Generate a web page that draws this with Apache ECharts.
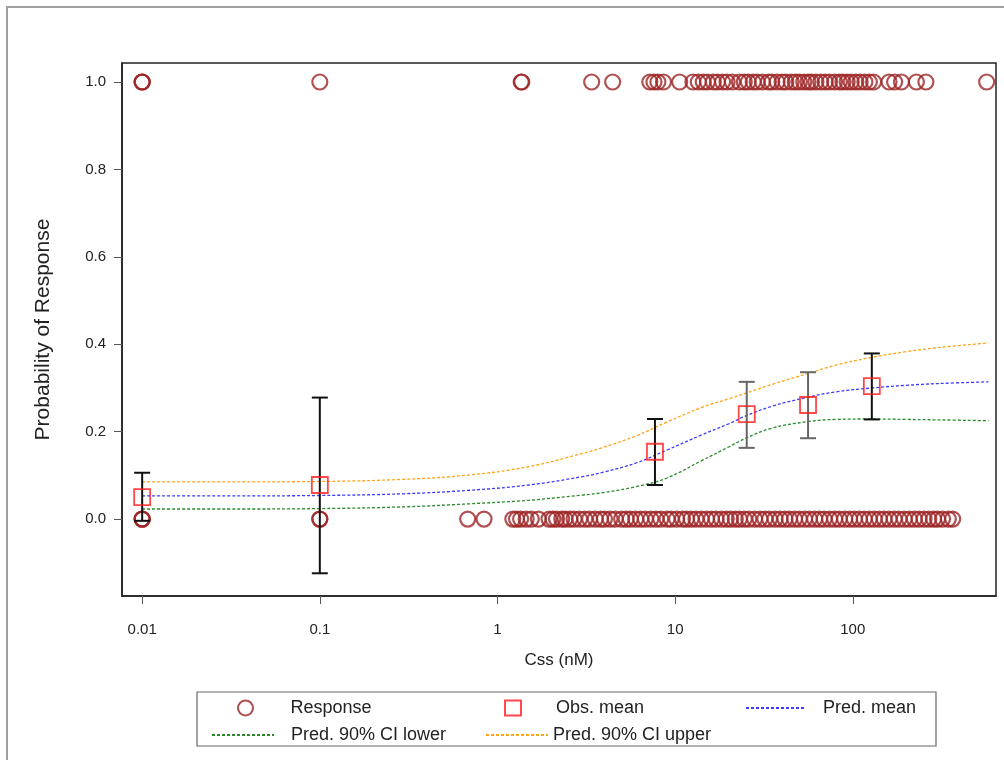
<!DOCTYPE html>
<html>
<head>
<meta charset="utf-8">
<script src="https://cdn.jsdelivr.net/npm/echarts@6/dist/echarts.min.js"></script>
<style>
  html, body { margin: 0; padding: 0; background: #fff; }
  #chart { width: 1004px; height: 760px; }
</style>
</head>
<body>
<div id="chart"></div>
<script>
// 数据
var respX1 = [0.01, 0.01, 0.01, 0.1, 1.36, 1.37, 3.39, 4.45, 7.2, 7.6, 8.0, 8.6, 10.6, 12.6, 13.5, 14.4,
  15.2, 16.4, 17.3, 18.5, 19.6, 21.0, 23.0, 24.5, 25.8, 27.5, 29.0, 31.0, 33.5, 35.0, 37.5, 40.0,
  42.0, 45.0, 47.5, 50.0, 53.0, 56.0, 58.5, 62.0, 66.0, 70.0, 74.0, 79.0, 84.0, 88.0, 93.0, 98.0,
  104, 110, 117, 124, 131, 160, 172, 188, 228, 258, 567];
var respX0 = [0.01, 0.01, 0.01, 0.1, 0.1, 0.68, 0.84, 1.22, 1.28, 1.35, 1.45, 1.55, 1.7, 1.95, 2.05,
  2.15, 2.3, 2.4, 2.55, 2.7, 2.9, 3.1, 3.3, 3.55, 3.8, 4.0, 4.3, 4.6, 5.0, 5.3, 5.6, 6.0, 6.4, 6.8,
  7.3, 7.8, 8.3, 9.0, 9.5, 10.2, 11.0, 11.6, 12.3, 13.1, 14.0, 15.0, 16.0, 17.0, 18.2, 19.4, 20.5,
  21.8, 23.0, 24.5, 26.0, 28.0, 30.0, 32.0, 34.0, 36.5, 39.0, 41.5, 44.0, 47.0, 50.0, 53.5, 57.0,
  61.0, 65.0, 69.0, 74.0, 79.0, 84.0, 90.0, 96.0, 102, 109, 116, 124, 132, 141, 150, 160, 171,
  182, 195, 208, 222, 236, 252, 268, 285, 300, 320, 345, 365];

var obsX = [0.01, 0.1, 7.7, 25.3, 56, 128];
var obsMean = [0.05, 0.078, 0.154, 0.24, 0.261, 0.304];
var ciLow = [-0.004, -0.124, 0.078, 0.163, 0.185, 0.228];
var ciHigh = [0.106, 0.278, 0.229, 0.314, 0.336, 0.379];

var curveX = [0.01, 0.03, 0.1, 0.3, 0.7, 1.5, 3, 4, 6, 9, 14, 20, 25, 35, 56, 80, 128, 200, 300, 580];
var predMean = [0.053, 0.053, 0.054, 0.058, 0.066, 0.078, 0.097, 0.108, 0.128, 0.158, 0.192, 0.218,
  0.236, 0.258, 0.279, 0.291, 0.300, 0.306, 0.310, 0.314];
var predUpper = [0.085, 0.085, 0.086, 0.091, 0.101, 0.12, 0.15, 0.165, 0.19, 0.222, 0.255, 0.275,
  0.288, 0.308, 0.333, 0.352, 0.37, 0.383, 0.392, 0.403];
var predLower = [0.023, 0.023, 0.024, 0.028, 0.035, 0.043, 0.055, 0.061, 0.074, 0.094, 0.133, 0.165,
  0.185, 0.208, 0.223, 0.228, 0.229, 0.228, 0.227, 0.225];

var xTicks = [0.01, 0.1, 1, 10, 100];
var yTicks = [0, 0.2, 0.4, 0.6, 0.8, 1.0];

var font = 'Liberation Sans, Arial, sans-serif';
var chart = echarts.init(document.getElementById('chart'));

function pairs(xs, ys) {
  return xs.map(function (x, i) { return [x, ys[i]]; });
}

var respData = respX1.map(function (x) { return [x, 1]; })
  .concat(respX0.map(function (x) { return [x, 0]; }));

function dashLine(name, ys, color) {
  return {
    name: name,
    type: 'line',
    data: pairs(curveX, ys),
    smooth: 0.4,
    symbol: 'none',
    z: 3,
    lineStyle: { color: color, width: 1.3, type: [3, 2] },
    itemStyle: { color: color }
  };
}

function legendAt(name, left, top, w, pad, isLine) {
  var lg = {
    data: [name],
    left: left,
    top: top,
    itemWidth: w,
    itemHeight: 15,
    selectedMode: false,
    textStyle: { fontFamily: font, fontSize: 18, color: '#222', padding: [0, 0, 0, pad] }
  };
  if (isLine) lg.itemStyle = { opacity: 0 };
  return lg;
}

var option = {
  backgroundColor: '#fff',
  animation: false,
  grid: {
    left: 122, top: 63, right: 8, bottom: 164,
    show: true, borderColor: '#222', borderWidth: 1.5
  },
  graphic: [
    { type: 'rect', shape: { x: 7, y: 7, width: 1020, height: 780 },
      style: { fill: 'none', stroke: '#a0a0a0', lineWidth: 2 }, silent: true },
    { type: 'rect', shape: { x: 197, y: 692, width: 739, height: 54 },
      style: { fill: 'none', stroke: '#666', lineWidth: 1.2 }, silent: true }
  ],
  legend: [
    legendAt('Response', 232, 694, 16, 32, false),
    legendAt('Obs. mean', 499, 694, 16, 30, false),
    legendAt('Pred. mean', 740, 694, 60, 12, true),
    legendAt('Pred. 90% CI lower', 206, 721, 62, 12, true),
    legendAt('Pred. 90% CI upper', 480, 721, 62, 0, true)
  ],
  xAxis: {
    type: 'log',
    logBase: 10,
    min: 0.0077,
    max: 640,
    name: 'Css (nM)',
    nameLocation: 'middle',
    nameGap: 56,
    nameTextStyle: { fontFamily: font, fontSize: 17, color: '#222' },
    axisLine: { show: true, onZero: false, lineStyle: { color: '#222', width: 1.5 } },
    axisTick: { show: true, length: 8, lineStyle: { color: '#555' }, customValues: xTicks },
    axisLabel: {
      customValues: xTicks,
      margin: 26,
      fontFamily: font, fontSize: 15, color: '#222',
      formatter: function (v) { return String(+v.toPrecision(3)); }
    },
    splitLine: { show: false },
    minorTick: { show: false }
  },
  yAxis: {
    type: 'value',
    min: -0.176,
    max: 1.0435,
    name: 'Probability of Response',
    nameLocation: 'middle',
    nameGap: 68,
    nameTextStyle: { fontFamily: font, fontSize: 21, color: '#222' },
    axisLine: { show: true, onZero: false, lineStyle: { color: '#222', width: 1.5 } },
    axisTick: { show: true, length: 8, lineStyle: { color: '#555' }, customValues: yTicks },
    axisLabel: {
      customValues: yTicks,
      margin: 16,
      fontFamily: font, fontSize: 15, color: '#222',
      formatter: function (v) { return v.toFixed(1); }
    },
    splitLine: { show: false }
  },
  series: [
    {
      name: 'Response',
      type: 'scatter',
      data: respData,
      symbol: 'circle',
      symbolSize: 15,
      z: 2,
      itemStyle: { color: 'rgba(0,0,0,0)', borderColor: '#9e2426', borderWidth: 2.2 }
    },
    dashLine('Pred. mean', predMean, '#3b3bff'),
    dashLine('Pred. 90% CI lower', predLower, '#2a8a2a'),
    dashLine('Pred. 90% CI upper', predUpper, '#ffa31a'),
    {
      name: 'CI bars',
      type: 'custom',
      z: 4,
      data: obsX.map(function (x, i) { return [x, ciLow[i], ciHigh[i]]; }),
      renderItem: function (params, api) {
        var lo = api.coord([api.value(0), api.value(1)]);
        var hi = api.coord([api.value(0), api.value(2)]);
        var col = (params.dataIndex === 3 || params.dataIndex === 4) ? '#666' : '#111';
        var st = { stroke: col, lineWidth: 2 };
        var w = 8;
        return {
          type: 'group',
          children: [
            { type: 'line', shape: { x1: lo[0], y1: lo[1], x2: hi[0], y2: hi[1] }, style: st },
            { type: 'line', shape: { x1: lo[0] - w, y1: lo[1], x2: lo[0] + w, y2: lo[1] }, style: st },
            { type: 'line', shape: { x1: hi[0] - w, y1: hi[1], x2: hi[0] + w, y2: hi[1] }, style: st }
          ]
        };
      }
    },
    {
      name: 'Obs. mean',
      type: 'scatter',
      data: pairs(obsX, obsMean),
      symbol: 'rect',
      symbolSize: 16,
      z: 5,
      itemStyle: { color: 'rgba(0,0,0,0)', borderColor: '#ff1a1a', borderWidth: 1.8 }
    }
  ]
};

chart.setOption(option);
</script>
</body>
</html>
